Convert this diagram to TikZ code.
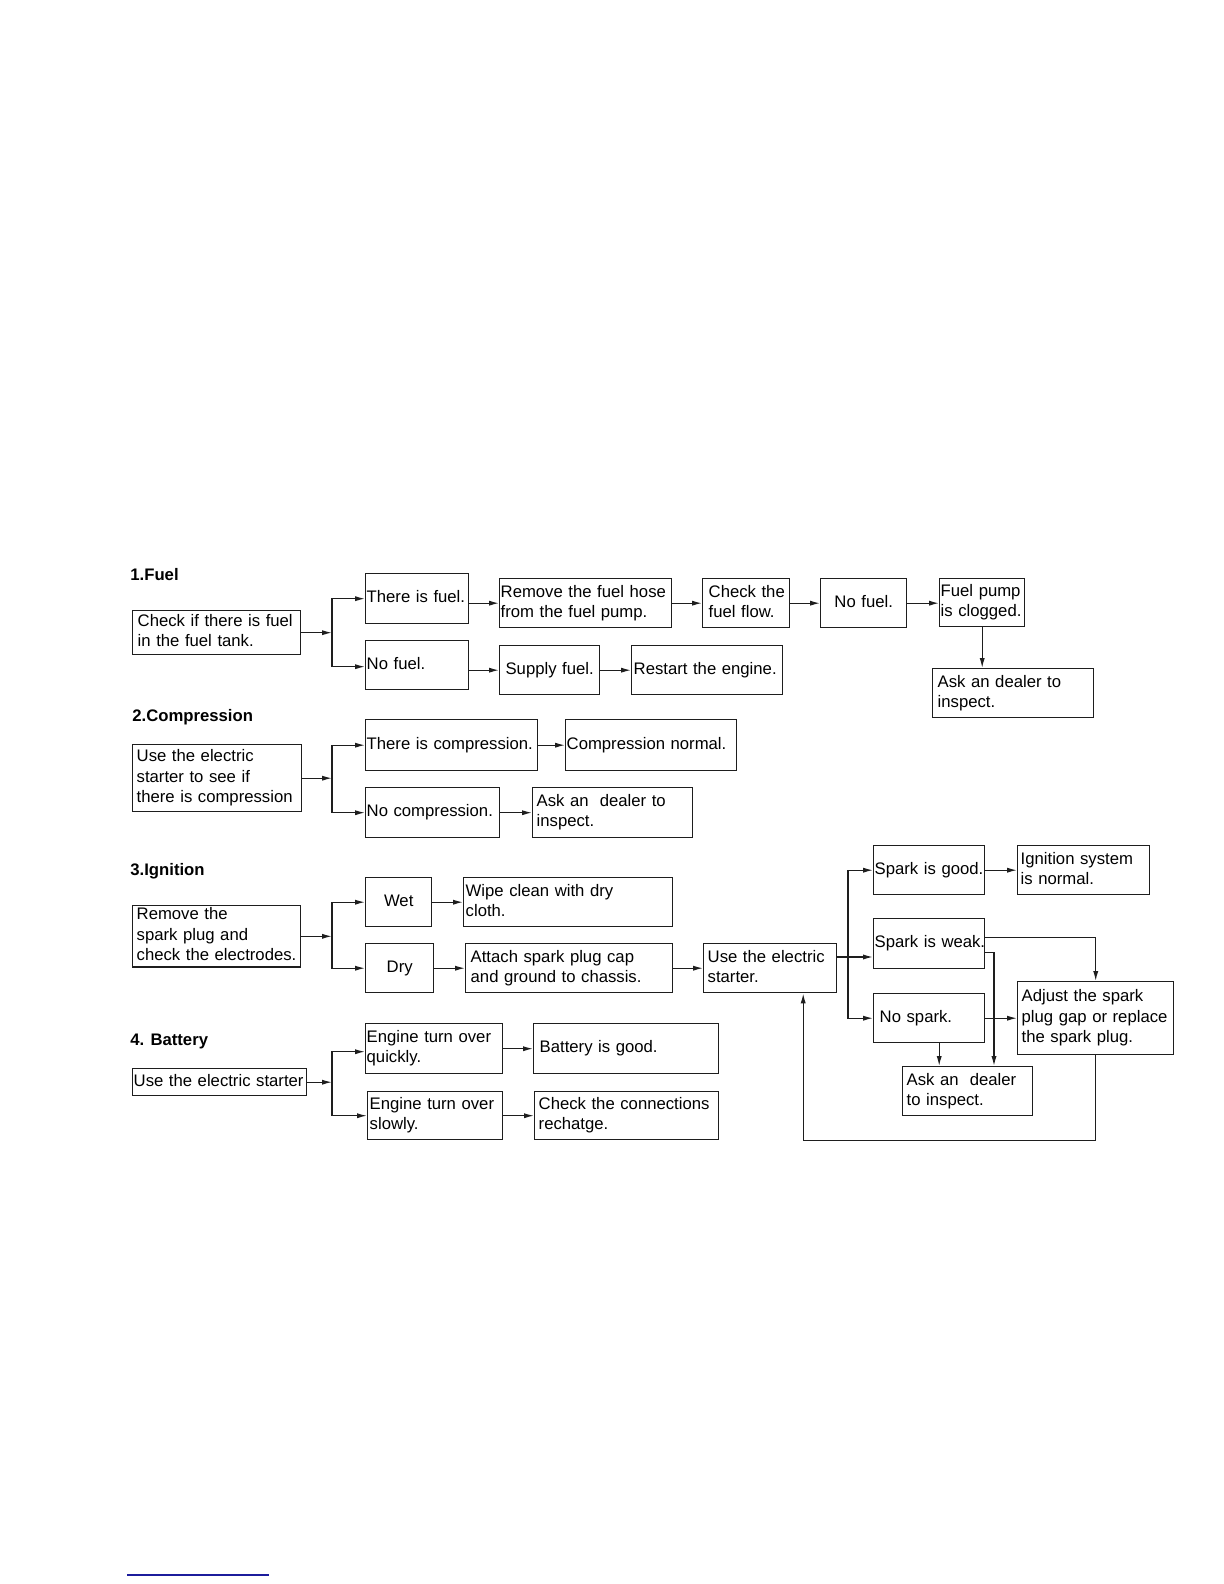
\documentclass[tikz,border=0pt]{standalone}
\usepackage{fontspec}
\setmainfont{Liberation Sans}
\usepackage{tikz}
\usetikzlibrary{
  arrows.meta,
  positioning,
  calc
}
\definecolor{tsLine}{HTML}{1E1E1E}
\definecolor{tsLink}{HTML}{1C1C9C}
\newcommand{\tsfont}{\fontsize{8.35}{10.2}\selectfont}
\newcommand{\lns}[1]{\begin{tabular}{@{}l@{}}#1\end{tabular}}
\tikzset{
  sz/.code n args={3}{%
    \pgfmathsetlengthmacro\szw{#1*0.5pt}%
    \pgfmathsetlengthmacro\szh{#2*0.5pt}%
    \pgfmathsetlengthmacro\szp{#3*0.5pt}%
    \pgfmathsetlengthmacro\szt{(#1-2*#3)*0.5pt}%
    \edef\sznext{\noexpand\tikzset{minimum width=\szw, minimum height=\szh,
      inner xsep=\szp, text width=\szt}}%
    \sznext},
  tsnode/.style={
    draw=tsLine, line width=0.7pt, rectangle, anchor=north west,
    inner ysep=0pt, font=\tsfont
  },
  lbox/.style={tsnode, align=left},
  cbox/.style={tsnode, align=center},
  ttl/.style={anchor=west, inner sep=0pt, font=\tsfont\bfseries},
  arr/.style={-{Latex[length=5pt,width=2.6pt]}, line width=0.65pt, tsLine},
  footline/.style={line width=0.7pt, tsLink}
}

\begin{document}
\begin{tikzpicture}[x=0.5pt, y=-0.5pt]
  \useasboundingbox (0,0) rectangle (1224,1584);

  % 1. Fuel
  \node[ttl] (t1) at (130,575) {1.Fuel};
  \node[lbox, sz={168}{44}{5}] (check) at (132,610) {\lns{Check if there is fuel\\in the fuel tank.}};
  \node[lbox, sz={103}{50}{1}] (tfuel) at (365,573) {\lns{There is fuel.}};
  \node[lbox, sz={103}{49}{1}] (nofuel) at (365,640) {\lns{No fuel.}};
  \node[lbox, sz={172}{49}{1}] (remove) at (499,578) {\lns{Remove the fuel hose\\from the fuel pump.}};
  \node[lbox, sz={87}{49}{6}] (flow) at (702,578) {\lns{Check the\\fuel flow.}};
  \node[cbox, sz={86}{49}{2}] (nofuel2) at (820,578) {\lns{No fuel.}};
  \node[lbox, sz={85}{48}{1}] (pump) at (939,578) {\lns{Fuel pump\\is clogged.}};
  \node[lbox, sz={161}{49}{5}] (dealer1) at (932,668) {\lns{Ask an dealer to\\inspect.}};
  \node[cbox, sz={100}{49}{2}] (supply) at (499,645) {\lns{Supply fuel.}};
  \node[lbox, sz={151}{49}{2}] (restart) at (631,645) {\lns{Restart the engine.}};
  \coordinate (fk1) at (332,0);
  \draw[arr] (check.east) -- (check.east -| fk1);
  \draw[arr] (check.east -| fk1) |- (tfuel.west);
  \draw[arr] (check.east -| fk1) |- ($(nofuel.west)+(0,1.5)$);
  \draw[arr] (tfuel.east |- remove.west) -- (remove.west);
  \draw[arr] (remove) -- (flow);
  \draw[arr] (flow) -- (nofuel2);
  \draw[arr] (nofuel2) -- (pump.west |- nofuel2);
  \draw[arr] (pump.south) -- (pump.south |- dealer1.north);
  \draw[arr] (nofuel.east |- supply.west) -- (supply.west);
  \draw[arr] (supply) -- (restart);

  % 2. Compression
  \node[ttl] (t2) at (132,717) {2.Compression};
  \node[lbox, sz={169}{67}{4}] (use2) at (132,744) {\lns{Use the electric\\starter to see if\\there is compression}};
  \node[lbox, sz={172}{51}{1}] (tcomp) at (365,719) {\lns{There is compression.}};
  \node[lbox, sz={171}{51}{1}] (cnormal) at (565,719) {\lns{Compression normal.}};
  \node[lbox, sz={134}{50}{1}] (nocomp) at (365,787) {\lns{No compression.}};
  \node[lbox, sz={160}{50}{4}] (dealer2) at (532,787) {\lns{Ask an~ dealer to\\inspect.}};
  \coordinate (fk2) at (332,0);
  \draw[arr] (use2.east) -- (use2.east -| fk2);
  \draw[arr] (use2.east -| fk2) |- (tcomp.west);
  \draw[arr] (use2.east -| fk2) |- (nocomp.west);
  \draw[arr] (tcomp) -- (cnormal);
  \draw[arr] (nocomp) -- (dealer2);

  % 3. Ignition
  \node[ttl] (t3) at (130,871) {3.Ignition};
  \node[lbox, sz={168}{60}{4}] (plug) at (132,905) {\lns{Remove the\\spark plug and\\check the electrodes.}};
  \node[cbox, sz={66}{49}{2}] (wet) at (365,877) {\lns{Wet}};
  \node[cbox, sz={68}{49}{2}] (dry) at (365,943) {\lns{Dry}};
  \node[lbox, sz={209}{49}{2}] (wipe) at (463,877) {\lns{Wipe clean with dry\\cloth.}};
  \node[lbox, sz={207}{49}{5}] (attach) at (465,943) {\lns{Attach spark plug cap\\and ground to chassis.}};
  \node[lbox, sz={133}{49}{4}] (starter) at (703,943) {\lns{Use the electric\\starter.}};
  \node[lbox, sz={111}{49}{1}] (sgood) at (873,845) {\lns{Spark is good.}};
  \node[lbox, sz={132}{49}{3}] (ignok) at (1017,845) {\lns{Ignition system\\is normal.}};
  \node[lbox, sz={111}{50}{1}] (sweak) at (873,918) {\lns{Spark is weak.}};
  \node[lbox, sz={111}{49}{6}] (nospark) at (873,993) {\lns{No spark.}};
  \node[lbox, sz={156}{73}{4}] (adjust) at (1017,981) {\lns{Adjust the spark\\plug gap or replace\\the spark plug.}};
  \node[lbox, sz={130}{49}{4}] (dealer3) at (902,1066) {\lns{Ask an~ dealer\\to inspect.}};
  \coordinate (fk3) at (332,0);
  \draw[arr] (plug.east) -- (plug.east -| fk3);
  \draw[arr] (plug.east -| fk3) |- (wet.west);
  \draw[arr] (plug.east -| fk3) |- (dry.west);
  \draw[arr] (wet) -- (wipe);
  \draw[arr] (dry) -- (attach);
  \draw[arr] (attach) -- (starter);
  \coordinate (fk4) at (848,957);
  \draw[arr] (starter.east |- fk4) -- (sweak.west |- fk4);
  \draw[arr] (fk4) |- (sgood.west);
  \draw[arr] (fk4) |- (nospark.west);
  \draw[arr] (sgood) -- (ignok);
  \draw[arr] ($(sweak.east)+(0,-6)$) -| (adjust.north);
  \draw[arr] ($(sweak.east)+(0,9)$) -| ($(dealer3.north west)+(92,0)$);
  \draw[arr] (nospark.east) -- (nospark.east -| adjust.west);
  \draw[arr] ($(nospark.south)+(10,0)$) coordinate (ns) -- (ns |- dealer3.north);
  \draw[arr] (adjust.south) -- ++(0,85) -| ($(starter.south)+(33,0)$);

  % 4. Battery
  \node[ttl] (t4) at (130,1041) {4. Battery};
  \node[lbox, sz={174}{27}{1}] (usebat) at (132,1068) {\lns{Use the electric starter}};
  \node[lbox, sz={137}{50}{1}] (quick) at (365,1023) {\lns{Engine turn over\\quickly.}};
  \node[lbox, sz={135}{48}{2}] (slow) at (367,1091) {\lns{Engine turn over\\slowly.}};
  \node[lbox, sz={185}{50}{6}] (batok) at (533,1023) {\lns{Battery is good.}};
  \node[lbox, sz={184}{48}{4}] (conn) at (534,1091) {\lns{Check the connections\\rechatge.}};
  \coordinate (fk5) at (332,0);
  \draw[arr] (usebat.east) -- (usebat.east -| fk5);
  \draw[arr] (usebat.east -| fk5) |- ($(quick.west)+(0,3)$);
  \draw[arr] (usebat.east -| fk5) |- (slow.west);
  \draw[arr] (quick.east |- batok.west) -- (batok.west);
  \draw[arr] (slow) -- (conn);

  \draw[footline] (127,1575) -- (269,1575);
\end{tikzpicture}
\end{document}
